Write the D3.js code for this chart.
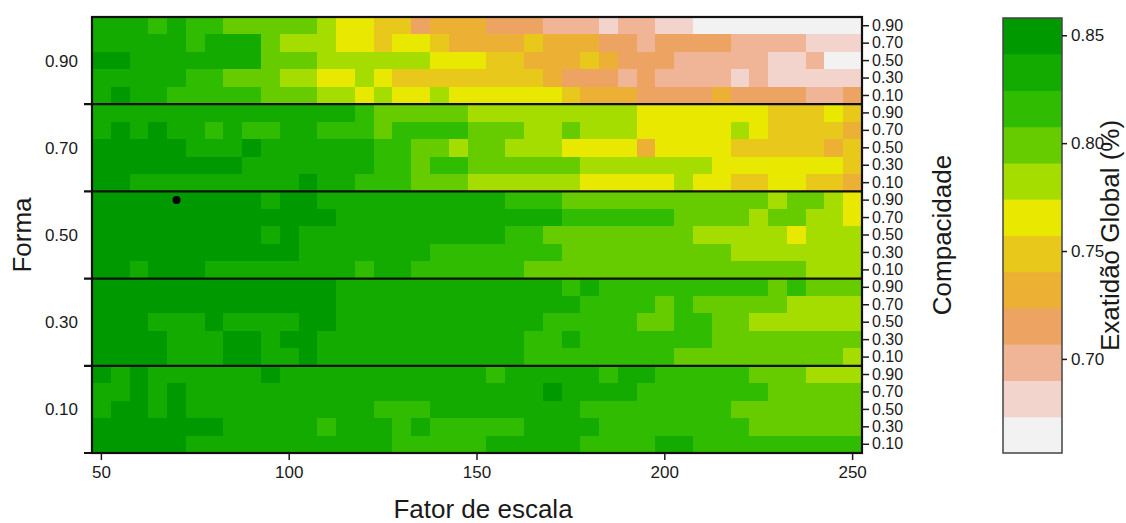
<!DOCTYPE html>
<html>
<head>
<meta charset="UTF-8">
<style>
  body { margin: 0; background: #fff; font-family: "Liberation Sans", Arial, sans-serif; }
  svg { display: block; }
  .tick text { font-size: 17px; fill: #1a1a1a; font-family: "Liberation Sans", Arial, sans-serif; }
  .tick line { stroke: #1a1a1a; stroke-width: 1.5; }
  .titulo { font-size: 26px; fill: #1a1a1a; }
</style>
</head>
<body>
<svg width="1126" height="523"></svg>
<script src="https://d3js.org/d3.v7.min.js"></script>
<script>
// fator de escala (colunas)
const fatores = [50,55,60,65,70,75,80,85,90,95,100,105,110,115,120,125,130,135,140,145,150,
  155,160,165,170,175,180,185,190,195,200,205,210,215,220,225,230,235,240,245,250];
const formas = [0.9, 0.7, 0.5, 0.3, 0.1];
const compacidades = [0.9, 0.7, 0.5, 0.3, 0.1];
const xTicks = [50, 100, 150, 200, 250];
const legendTicks = [0.70, 0.75, 0.80, 0.85];
const escalaLimites = [0.6564, 0.858];
const cores = ["#f2f2f2","#f2d4cc","#f0b597","#eda462","#ebb034","#e9c81c",
  "#e8e800","#a5dd00","#66cc00","#30bc00","#14ab00","#009a00"];
const melhor = { fator: 70, forma: 0.5, compacidade: 0.9 };

// exatidao global: uma linha por compacidade (0.9 ... 0.1), uma coluna por fator
const forma090 = [
  [.833,.833,.833,.816,.833,.816,.816,.799,.799,.799,
   .799,.799,.782,.766,.766,.749,.749,.715,.732,.732,
   .732,.715,.715,.715,.698,.698,.698,.682,.698,.698,
   .682,.682,.665,.665,.665,.665,.665,.665,.665,.665,.665],
  [.833,.833,.833,.833,.833,.816,.833,.833,.833,.799,
   .782,.782,.782,.766,.766,.749,.766,.766,.749,.732,
   .732,.732,.732,.749,.732,.732,.732,.715,.715,.698,
   .715,.715,.715,.715,.698,.698,.698,.698,.682,.682,.682],
  [.850,.850,.833,.833,.833,.833,.833,.833,.833,.799,
   .799,.799,.782,.782,.782,.782,.782,.782,.766,.766,
   .766,.749,.749,.732,.732,.732,.749,.732,.715,.715,
   .715,.698,.698,.698,.698,.698,.682,.682,.698,.665,.665],
  [.833,.833,.833,.833,.833,.816,.816,.799,.799,.799,
   .782,.782,.766,.766,.782,.766,.749,.749,.749,.749,
   .749,.749,.749,.749,.732,.715,.715,.715,.698,.715,
   .698,.698,.698,.698,.682,.698,.682,.682,.682,.682,.682],
  [.833,.850,.833,.833,.816,.816,.816,.816,.816,.799,
   .799,.799,.782,.782,.766,.782,.766,.766,.782,.766,
   .766,.766,.766,.766,.766,.749,.732,.732,.732,.715,
   .715,.715,.715,.732,.715,.715,.715,.715,.698,.698,.715]
];
const forma070 = [
  [.833,.833,.833,.833,.833,.833,.833,.833,.833,.833,
   .833,.833,.833,.833,.816,.799,.799,.799,.799,.799,
   .782,.782,.782,.782,.782,.782,.782,.782,.782,.766,
   .766,.766,.766,.766,.766,.766,.749,.749,.749,.766,.749],
  [.833,.850,.833,.850,.833,.833,.816,.833,.816,.816,
   .833,.833,.816,.816,.816,.799,.816,.816,.816,.816,
   .799,.799,.799,.782,.782,.799,.782,.782,.782,.766,
   .766,.766,.766,.766,.782,.766,.749,.749,.749,.749,.732],
  [.850,.850,.850,.850,.850,.833,.833,.833,.850,.833,
   .833,.833,.833,.833,.833,.816,.816,.799,.799,.782,
   .799,.799,.782,.782,.782,.766,.766,.766,.766,.732,
   .766,.766,.766,.766,.749,.749,.749,.749,.749,.732,.749],
  [.850,.850,.850,.850,.850,.850,.850,.850,.833,.833,
   .833,.833,.833,.833,.833,.816,.816,.799,.816,.816,
   .799,.799,.799,.799,.799,.799,.782,.782,.782,.782,
   .782,.782,.782,.766,.766,.766,.766,.766,.766,.766,.749],
  [.850,.850,.833,.833,.833,.833,.833,.833,.833,.833,
   .833,.850,.833,.833,.816,.816,.816,.799,.799,.799,
   .782,.782,.782,.782,.782,.782,.766,.766,.766,.766,
   .766,.782,.766,.766,.749,.749,.766,.766,.749,.749,.732]
];
const forma050 = [
  [.850,.850,.850,.850,.850,.850,.850,.850,.850,.833,
   .850,.850,.833,.833,.833,.833,.833,.833,.833,.833,
   .833,.833,.816,.816,.816,.799,.799,.799,.799,.799,
   .799,.799,.799,.799,.799,.799,.782,.799,.799,.782,.766],
  [.850,.850,.850,.850,.850,.850,.850,.850,.850,.850,
   .850,.850,.850,.833,.833,.833,.833,.833,.833,.833,
   .833,.833,.833,.833,.833,.816,.816,.816,.816,.816,
   .816,.799,.799,.799,.799,.782,.799,.799,.782,.782,.766],
  [.850,.850,.850,.850,.850,.850,.850,.850,.850,.833,
   .850,.833,.833,.833,.833,.833,.833,.833,.833,.833,
   .833,.833,.816,.816,.799,.799,.799,.799,.799,.799,
   .799,.799,.782,.782,.782,.782,.782,.766,.782,.782,.782],
  [.850,.850,.850,.850,.850,.850,.850,.850,.850,.850,
   .850,.833,.833,.833,.833,.833,.833,.833,.816,.816,
   .816,.816,.816,.816,.816,.799,.799,.799,.799,.799,
   .799,.799,.799,.799,.782,.782,.782,.782,.782,.782,.782],
  [.850,.850,.833,.850,.850,.850,.833,.833,.833,.833,
   .833,.833,.833,.833,.816,.833,.833,.816,.816,.816,
   .816,.816,.816,.799,.799,.799,.799,.799,.799,.799,
   .799,.799,.799,.799,.799,.799,.799,.799,.782,.782,.782]
];
const forma030 = [
  [.850,.850,.850,.850,.850,.850,.850,.850,.850,.850,
   .850,.850,.850,.833,.833,.833,.833,.833,.833,.833,
   .833,.833,.833,.833,.833,.816,.833,.816,.816,.816,
   .816,.816,.816,.816,.816,.816,.799,.816,.799,.799,.799],
  [.850,.850,.850,.850,.850,.850,.850,.850,.850,.850,
   .850,.850,.850,.833,.833,.833,.833,.833,.833,.833,
   .833,.833,.833,.833,.833,.833,.816,.816,.816,.816,
   .799,.816,.799,.799,.799,.799,.799,.782,.782,.782,.782],
  [.850,.850,.850,.833,.833,.833,.850,.833,.833,.833,
   .833,.850,.850,.833,.833,.833,.833,.833,.833,.833,
   .833,.833,.833,.833,.816,.816,.816,.816,.816,.799,
   .799,.816,.816,.799,.799,.782,.782,.782,.782,.782,.782],
  [.850,.850,.850,.850,.833,.833,.833,.850,.850,.833,
   .850,.850,.833,.833,.833,.833,.833,.833,.833,.833,
   .833,.833,.833,.816,.816,.833,.816,.816,.816,.816,
   .816,.816,.816,.799,.799,.799,.799,.799,.799,.799,.799],
  [.850,.850,.850,.850,.833,.833,.833,.850,.850,.833,
   .833,.850,.833,.833,.833,.833,.833,.833,.833,.833,
   .833,.833,.833,.816,.816,.816,.816,.816,.816,.816,
   .816,.799,.799,.799,.799,.799,.799,.799,.799,.799,.782]
];
const forma010 = [
  [.850,.833,.850,.833,.833,.833,.833,.833,.833,.850,
   .833,.833,.833,.833,.833,.833,.833,.833,.833,.833,
   .833,.816,.833,.833,.833,.833,.833,.816,.833,.833,
   .816,.816,.816,.816,.816,.799,.799,.799,.782,.782,.782],
  [.833,.833,.850,.833,.850,.833,.833,.833,.833,.833,
   .833,.833,.833,.833,.833,.833,.833,.833,.833,.833,
   .833,.833,.833,.833,.850,.833,.833,.833,.833,.816,
   .816,.816,.816,.816,.816,.816,.799,.799,.799,.799,.799],
  [.833,.850,.850,.833,.850,.833,.833,.833,.833,.833,
   .833,.833,.833,.833,.833,.816,.816,.816,.833,.833,
   .833,.833,.833,.833,.833,.833,.816,.816,.816,.816,
   .816,.816,.816,.816,.799,.799,.799,.799,.799,.799,.799],
  [.850,.850,.850,.850,.850,.850,.850,.833,.833,.833,
   .833,.833,.816,.833,.833,.833,.816,.833,.816,.816,
   .816,.816,.816,.833,.833,.833,.833,.816,.816,.816,
   .816,.816,.816,.816,.816,.799,.799,.799,.799,.799,.799],
  [.850,.850,.850,.850,.850,.833,.833,.833,.833,.833,
   .833,.833,.833,.833,.833,.833,.816,.816,.816,.816,
   .816,.833,.833,.833,.833,.833,.816,.816,.816,.816,
   .833,.833,.816,.816,.816,.816,.816,.816,.816,.816,.816]
];

const exatidao = [forma090, forma070, forma050, forma030, forma010];

const plot = { left: 92, right: 862, top: 17, bottom: 453 };
const svg = d3.select("svg");

const x = d3.scaleBand().domain(fatores).range([plot.left, plot.right]);
const yForma = d3.scaleBand().domain(formas).range([plot.top, plot.bottom]);
const yComp = d3.scaleBand().domain(compacidades).range([0, yForma.bandwidth()]);
const cor = d3.scaleQuantize().domain(escalaLimites).range(cores);

let cells = [];
formas.forEach((f, i) => {
  compacidades.forEach((c, j) => {
    fatores.forEach((s, k) => {
      cells.push({ forma: f, comp: c, fator: s, valor: exatidao[i][j][k] });
    });
  });
});

svg.append("g")
  .attr("shape-rendering", "crispEdges")
  .selectAll("rect")
  .data(cells)
  .join("rect")
  .attr("x", d => x(d.fator))
  .attr("y", d => yForma(d.forma) + yComp(d.comp))
  .attr("width", x.bandwidth() + 0.6)
  .attr("height", yComp.bandwidth() + 0.6)
  .attr("fill", d => cor(d.valor));

// linhas entre as faixas de forma (prolongadas para a esquerda)
svg.append("g")
  .selectAll("line")
  .data(formas.slice(1).concat(["fim"]))
  .join("line")
  .attr("x1", plot.left - 8)
  .attr("x2", plot.right)
  .attr("y1", d => d === "fim" ? plot.bottom : yForma(d))
  .attr("y2", d => d === "fim" ? plot.bottom : yForma(d))
  .attr("stroke", "#111")
  .attr("stroke-width", 2.2);

svg.append("rect")
  .attr("x", plot.left)
  .attr("y", plot.top)
  .attr("width", plot.right - plot.left)
  .attr("height", plot.bottom - plot.top)
  .attr("fill", "none")
  .attr("stroke", "#111")
  .attr("stroke-width", 2.2);

// eixo x
const xAxis = svg.append("g")
  .attr("transform", `translate(0,${plot.bottom})`)
  .call(d3.axisBottom(x).tickValues(xTicks).tickSize(7).tickPadding(6));
xAxis.select(".domain").remove();

// rotulos de forma (esquerda)
svg.append("g")
  .selectAll("text")
  .data(formas)
  .join("text")
  .attr("x", 78)
  .attr("y", d => yForma(d) + yForma.bandwidth() / 2)
  .attr("dy", "0.35em")
  .attr("text-anchor", "end")
  .style("font-size", "17px")
  .attr("fill", "#1a1a1a")
  .text(d => d3.format(".2f")(d));

// eixo de compacidade (direita), um por faixa
formas.forEach(f => {
  const g = svg.append("g")
    .attr("transform", `translate(${plot.right},${yForma(f)})`)
    .call(d3.axisRight(yComp).tickFormat(d3.format(".2f")).tickSize(7).tickPadding(3));
  g.select(".domain").remove();
  g.selectAll(".tick text").style("font-size", "16px");
});

// ponto do melhor resultado
svg.append("circle")
  .attr("cx", x(melhor.fator) + x.bandwidth() / 2)
  .attr("cy", yForma(melhor.forma) + yComp(melhor.compacidade) + yComp.bandwidth() / 2)
  .attr("r", 4)
  .attr("fill", "#000");

// titulos
svg.append("text").attr("class", "titulo")
  .attr("x", 483).attr("y", 518)
  .attr("text-anchor", "middle").text("Fator de escala");
svg.append("text").attr("class", "titulo")
  .attr("transform", `translate(31,${(plot.top + plot.bottom) / 2}) rotate(-90)`)
  .attr("text-anchor", "middle").text("Forma");
svg.append("text").attr("class", "titulo")
  .attr("transform", `translate(951,${(plot.top + plot.bottom) / 2}) rotate(-90)`)
  .attr("text-anchor", "middle").text("Compacidade");

// legenda
const leg = { x: 1003, w: 59, top: 18, bottom: 453 };
const yLeg = d3.scaleLinear().domain(escalaLimites).range([leg.bottom, leg.top]);
const limites = [escalaLimites[0]].concat(cor.thresholds(), [escalaLimites[1]]);

svg.append("g")
  .selectAll("rect")
  .data(cores)
  .join("rect")
  .attr("x", leg.x)
  .attr("y", (d, i) => yLeg(limites[i + 1]))
  .attr("width", leg.w)
  .attr("height", (d, i) => yLeg(limites[i]) - yLeg(limites[i + 1]) + 0.5)
  .attr("fill", d => d);

svg.append("rect")
  .attr("x", leg.x).attr("y", leg.top)
  .attr("width", leg.w).attr("height", leg.bottom - leg.top)
  .attr("fill", "none").attr("stroke", "#444").attr("stroke-width", 1.5);

const legAxis = svg.append("g")
  .attr("transform", `translate(${leg.x + leg.w},0)`)
  .call(d3.axisRight(yLeg).tickValues(legendTicks).tickFormat(d3.format(".2f")).tickSize(5).tickPadding(4));
legAxis.select(".domain").remove();

svg.append("text").attr("class", "titulo")
  .attr("transform", `translate(1119,${(leg.top + leg.bottom) / 2}) rotate(-90)`)
  .attr("text-anchor", "middle").text("Exatidão Global (%)");
</script>
</body>
</html>
